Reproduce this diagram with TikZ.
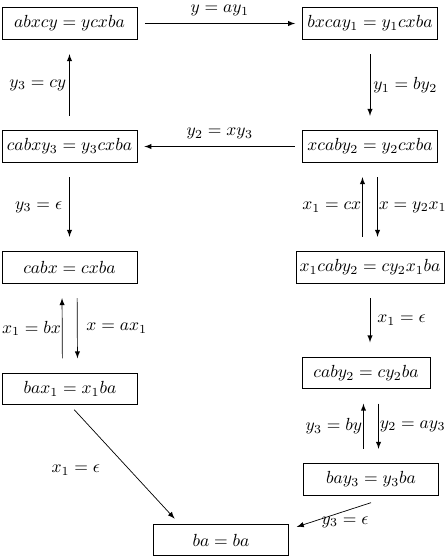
\documentclass[tikz,border=0pt]{standalone}
\usepackage{amsmath}
\usepackage{amssymb}
\usetikzlibrary{positioning}
\tikzset{e/.style = {draw, thin, minimum width=77pt, minimum height=18pt, inner xsep=2pt, inner ysep=0pt},
    l/.style = {inner sep=0pt},
    t/.style = {->, shorten >=8.3pt, shorten <=8.3pt},
    h/.style = {->, shorten >=4pt, shorten <=4.3pt}}

\begin{document}
\begin{tikzpicture}[x=0.57pt, y=-0.57pt, >=latex]
        \useasboundingbox (0,0) rectangle (446,556);

        \node[e] (abxcy) at (69.5,23.5) {$abxcy = ycxba$};
        \node[e] (bxcay) at (370,23.5) {$bxcay_1 = y_1cxba$};
        \node[e] (cabxy) at (69.5,146.5) {$cabxy_3 = y_3cxba$};
        \node[e] (xcaby) at (370,146.5) {$xcaby_2 = y_2cxba$};
        \node[e] (cabx) at (69.5,267.5) {$cabx = cxba$};
        \node[e] (xcab) at (370,267.5) {$x_1caby_2 = cy_2x_1ba$};
        \node[e] (bax) at (70,389) {$bax_1 = x_1ba$};
        \node[e, minimum width=73pt] (caby) at (366,373) {$caby_2 = cy_2ba$};
        \node[e] (bay) at (371,479.5) {$bay_3 = y_3ba$};
        \node[e] (ba) at (221,540) {$ba = ba$};

        \draw [h] (abxcy) -- (bxcay) node[l, midway, above=4pt] {$y = ay_1$};
        \draw [t] (cabxy) -- (abxcy) node[l, midway, left=1.7pt] {$y_3 = cy$};
        \draw [t] (bxcay) -- (xcaby) node[l, midway, right=1.7pt] {$y_1 = by_2$};
        \draw [h] (xcaby) -- (cabxy) node[l, midway, above=4pt] {$y_2 = xy_3$};
        \draw [t] (cabxy) -- (cabx) node[l, midway, left=4pt] {$y_3 = \epsilon$};

        \draw [t] ([xshift=-4.3pt]xcab.north) -- ([xshift=-4.3pt]xcaby.south)
            node[l, midway, left=0.5pt] {$x_1 = cx$};
        \draw [t] ([xshift=4.3pt]xcaby.south) -- ([xshift=4.3pt]xcab.north)
            node[l, midway, right=0.5pt] {$x = y_2x_1$};

        \draw [t] ([xshift=-4.3pt]bax.north) -- ([xshift=-4.3pt]cabx.south)
            node[l, midway, left=0.5pt] {$x_1 = bx$};
        \draw [t] ([xshift=4.3pt]cabx.south) -- ([xshift=4.3pt]bax.north)
            node[l, midway, right=5pt] {$x = ax_1$};

        \draw [t] (xcab.south) -- (xcab.south |- caby.north) node[l, midway, right=4pt] {$x_1 = \epsilon$};

        \draw [t] ([xshift=-4.3pt]bay.north) -- ([xshift=-4.3pt]bay.north |- caby.south)
            node[l, midway, left=0.5pt] {$y_3 = by$};
        \draw [t] ([xshift=4.3pt]bay.north |- caby.south) -- ([xshift=4.3pt]bay.north)
            node[l, midway, right=0.5pt] {$y_2 = ay_3$};

        \draw [->, shorten <=3.5pt, shorten >=4pt] (bax.south) -- ([xshift=15pt]ba.north west)
            node[l, pos=.55, left=17pt] {$x_1 = \epsilon$};
        \draw [->] ([yshift=-4pt]bay.south) -- ([xshift=4.5pt, yshift=-1.7pt]ba.north east)
            node[l, pos=.35, below=3pt] {$y_3 = \epsilon$};
    \end{tikzpicture}
\end{document}
